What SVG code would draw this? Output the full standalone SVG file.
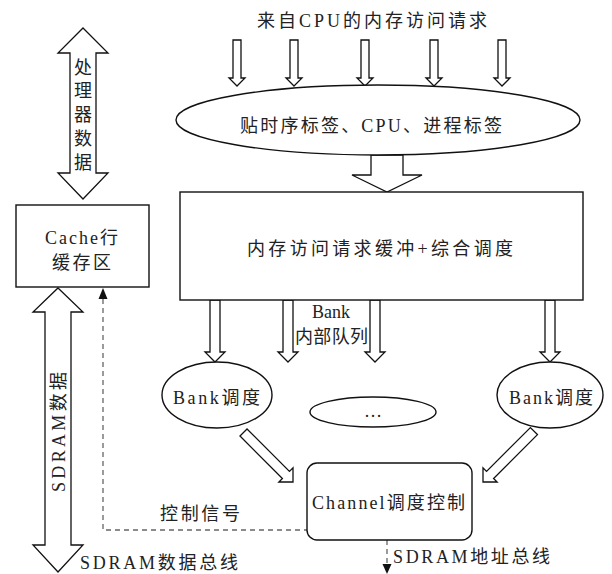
<svg xmlns="http://www.w3.org/2000/svg" width="612" height="574" viewBox="0 0 612 574">
<style>
text{font-family:"Liberation Serif","Noto Sans CJK SC",serif;font-size:18px;fill:#222;}
.m{text-anchor:middle;}
.sh{fill:#fff;stroke:#111;stroke-width:1.4;stroke-linejoin:miter;}
.ar{fill:#fff;stroke:#111;stroke-width:1.3;}
.dash{fill:none;stroke:#666;stroke-width:1.3;stroke-dasharray:5,4;}
.hd{fill:#111;}
</style>
<rect width="612" height="574" fill="#fff"/>
<g id="connectors">
  <!-- processor data double arrow -->
  <polygon class="ar" points="83,28 108,53 96,53 96,173 108,173 83,199 58,173 70,173 70,53 58,53"/>
  <!-- SDRAM data double arrow -->
  <polygon class="ar" points="58,288 83,312 71,312 71,545 83,545 58,572 33,545 45,545 45,312 33,312"/>
  <!-- top request arrows -->
  <polygon class="ar" points="233,40 241,40 241,78 245,78 237,86 229,78 233,78"/>
  <polygon class="ar" points="290,40 298,40 298,78 302,78 294,86 286,78 290,78"/>
  <polygon class="ar" points="361,40 369,40 369,78 373,78 365,86 357,78 361,78"/>
  <polygon class="ar" points="430,40 438,40 438,78 442,78 434,86 426,78 430,78"/>
  <polygon class="ar" points="498,40 506,40 506,78 510,78 502,86 494,78 498,78"/>
  <!-- ellipse to buffer -->
  <polygon class="ar" points="371,155 403,155 403,175 422,175 387,192 352,175 371,175"/>
  <!-- buffer to bank arrows -->
  <polygon class="ar" points="210,300 220,300 220,352 225,352 215,362 205,352 210,352"/>
  <polygon class="ar" points="283,300 293,300 293,352 298,352 288,362 278,352 283,352"/>
  <polygon class="ar" points="370,300 380,300 380,352 385,352 375,362 365,352 370,352"/>
  <polygon class="ar" points="545,300 555,300 555,352 560,352 550,362 540,352 545,352"/>
  <!-- diagonal arrows -->
  <polygon class="ar" transform="translate(293,482) rotate(45)" points="-70,-5 -10,-5 -10,-10 0,0 -10,10 -10,5 -70,5"/>
  <polygon class="ar" transform="translate(483,482) rotate(135)" points="-72,-5 -10,-5 -10,-10 0,0 -10,10 -10,5 -72,5"/>
  <!-- control signal dashed -->
  <path class="dash" d="M103,299 V530 H307"/>
  <polygon class="hd" points="98.5,299 107.5,299 103,288"/>
  <!-- address bus dashed -->
  <path class="dash" d="M387,540 V565"/>
  <polygon class="hd" points="382.5,564 391.5,564 387,574"/>
</g>
<g id="label-top"><text x="257" y="27" textLength="230" lengthAdjust="spacing">来自CPU的内存访问请求</text></g>
<g id="label-proc">
  <text class="m" x="83" y="74">处</text>
  <text class="m" x="83" y="97">理</text>
  <text class="m" x="83" y="121">器</text>
  <text class="m" x="83" y="145">数</text>
  <text class="m" x="83" y="169">据</text>
</g>
<g id="label-sdram-data"><text class="m" transform="translate(59,432) rotate(-90)" y="6" textLength="120" lengthAdjust="spacing">SDRAM数据</text></g>
<g id="tag">
  <ellipse class="sh" cx="378" cy="120" rx="202" ry="35"/>
  <text x="240" y="132" textLength="262" lengthAdjust="spacing">贴时序标签、CPU、进程标签</text>
</g>
<g id="buffer">
  <rect class="sh" x="180" y="192" width="403" height="108"/>
  <text x="247" y="255" textLength="266" lengthAdjust="spacing">内存访问请求缓冲+综合调度</text>
</g>
<g id="cache">
  <rect class="sh" x="16" y="205" width="133" height="82"/>
  <text x="45" y="244" textLength="73" lengthAdjust="spacing">Cache行</text>
  <text x="52" y="269" textLength="59" lengthAdjust="spacing">缓存区</text>
</g>
<g id="label-queue">
  <text class="m" x="331" y="318">Bank</text>
  <text x="295" y="343" textLength="73" lengthAdjust="spacing">内部队列</text>
</g>
<g id="bank1">
  <ellipse class="sh" cx="217" cy="395" rx="55" ry="33"/>
  <text x="173" y="404" textLength="87" lengthAdjust="spacing">Bank调度</text>
</g>
<g id="bank-dots">
  <ellipse class="sh" cx="373" cy="412" rx="63" ry="15"/>
  <text class="m" x="373" y="417">…</text>
</g>
<g id="bank2">
  <ellipse class="sh" cx="550" cy="395" rx="53" ry="33"/>
  <text x="509" y="404" textLength="84" lengthAdjust="spacing">Bank调度</text>
</g>
<g id="channel">
  <rect class="sh" x="307" y="463" width="165" height="77" rx="10"/>
  <text x="312" y="509" textLength="153" lengthAdjust="spacing">Channel调度控制</text>
</g>
<g id="labels">
  <text x="160" y="520" textLength="80" lengthAdjust="spacing">控制信号</text>
  <text x="80" y="569" textLength="158" lengthAdjust="spacing">SDRAM数据总线</text>
  <text x="393" y="563" textLength="157" lengthAdjust="spacing">SDRAM地址总线</text>
</g>
</svg>
